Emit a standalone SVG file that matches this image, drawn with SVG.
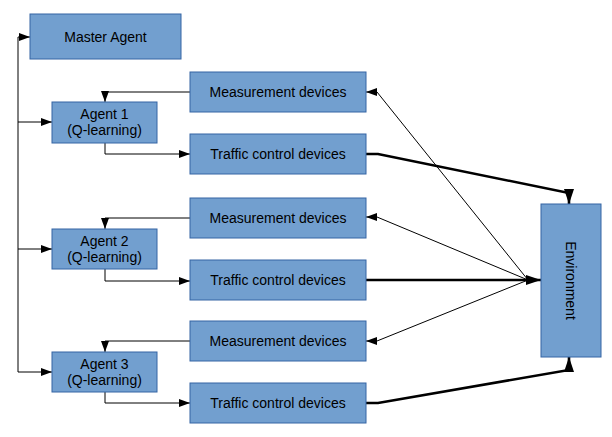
<svg xmlns="http://www.w3.org/2000/svg" width="612" height="437" viewBox="0 0 612 437">
<style>
.box{fill:#729fcf;stroke:#3465a4;stroke-width:1}
text{font-family:"Liberation Sans",Arial,sans-serif;font-size:14px;fill:#000;text-anchor:middle}
.thin{fill:none;stroke:#000;stroke-width:1}
.thick{fill:none;stroke:#000;stroke-width:2.6}
</style>
<defs>
<marker id="a" markerUnits="userSpaceOnUse" markerWidth="12" markerHeight="8" refX="11" refY="4" orient="auto"><path d="M0,0 L11,4 L0,8 Z" fill="#000"/></marker>
<marker id="b" markerUnits="userSpaceOnUse" markerWidth="16" markerHeight="10" refX="15" refY="5" orient="auto"><path d="M0,0 L15,5 L0,10 Z" fill="#000"/></marker>
</defs>
<g id="connectors">
<path class="thin" d="M18,372 V37 H30" marker-end="url(#a)"/>
<path class="thin" d="M18,122 H52" marker-end="url(#a)"/>
<path class="thin" d="M18,249 H52" marker-end="url(#a)"/>
<path class="thin" d="M18,372 H52" marker-end="url(#a)"/>
<path class="thin" d="M190,92 H105 V102" marker-end="url(#a)"/>
<path class="thin" d="M105,143 V154 H190" marker-end="url(#a)"/>
<path class="thin" d="M190,218 H105 V229" marker-end="url(#a)"/>
<path class="thin" d="M105,269 V281 H190" marker-end="url(#a)"/>
<path class="thin" d="M190,341 H105 V352" marker-end="url(#a)"/>
<path class="thin" d="M105,392 V403 H190" marker-end="url(#a)"/>
<path class="thin" d="M528,280 L377,92 H366" marker-end="url(#a)"/>
<path class="thin" d="M528,280 L377,217 H366" marker-end="url(#a)"/>
<path class="thin" d="M528,280 L377,341 H366" marker-end="url(#a)"/>
<path class="thick" d="M366,154 H378 L569,193 V204" marker-end="url(#b)"/>
<path class="thick" d="M366,280 H541" marker-end="url(#b)"/>
<path class="thick" d="M366,403 H378 L569,370 V357" marker-end="url(#b)"/>
</g>
<g id="master"><rect class="box" x="30" y="14" width="151" height="45"/><text x="105.5" y="42">Master Agent</text></g>
<g id="agent1"><rect class="box" x="52" y="102" width="105" height="41"/><text x="104.5" y="119">Agent 1</text><text x="104.5" y="135">(Q-learning)</text></g>
<g id="agent2"><rect class="box" x="52" y="229" width="105" height="40"/><text x="104.5" y="245.5">Agent 2</text><text x="104.5" y="261.5">(Q-learning)</text></g>
<g id="agent3"><rect class="box" x="52" y="352" width="105" height="40"/><text x="104.5" y="368.5">Agent 3</text><text x="104.5" y="384.5">(Q-learning)</text></g>
<g id="meas1"><rect class="box" x="190" y="72" width="176" height="40"/><text x="278" y="97">Measurement devices</text></g>
<g id="traffic1"><rect class="box" x="190" y="134" width="176" height="40"/><text x="278" y="159">Traffic control devices</text></g>
<g id="meas2"><rect class="box" x="190" y="198" width="176" height="40"/><text x="278" y="223">Measurement devices</text></g>
<g id="traffic2"><rect class="box" x="190" y="260" width="176" height="40"/><text x="278" y="285">Traffic control devices</text></g>
<g id="meas3"><rect class="box" x="190" y="321" width="176" height="40"/><text x="278" y="346">Measurement devices</text></g>
<g id="traffic3"><rect class="box" x="190" y="383" width="176" height="40"/><text x="278" y="408">Traffic control devices</text></g>
<g id="environment"><rect class="box" x="541" y="204" width="60" height="153"/><text transform="translate(566,280.5) rotate(90)" x="0" y="0">Environment</text></g>
</svg>
